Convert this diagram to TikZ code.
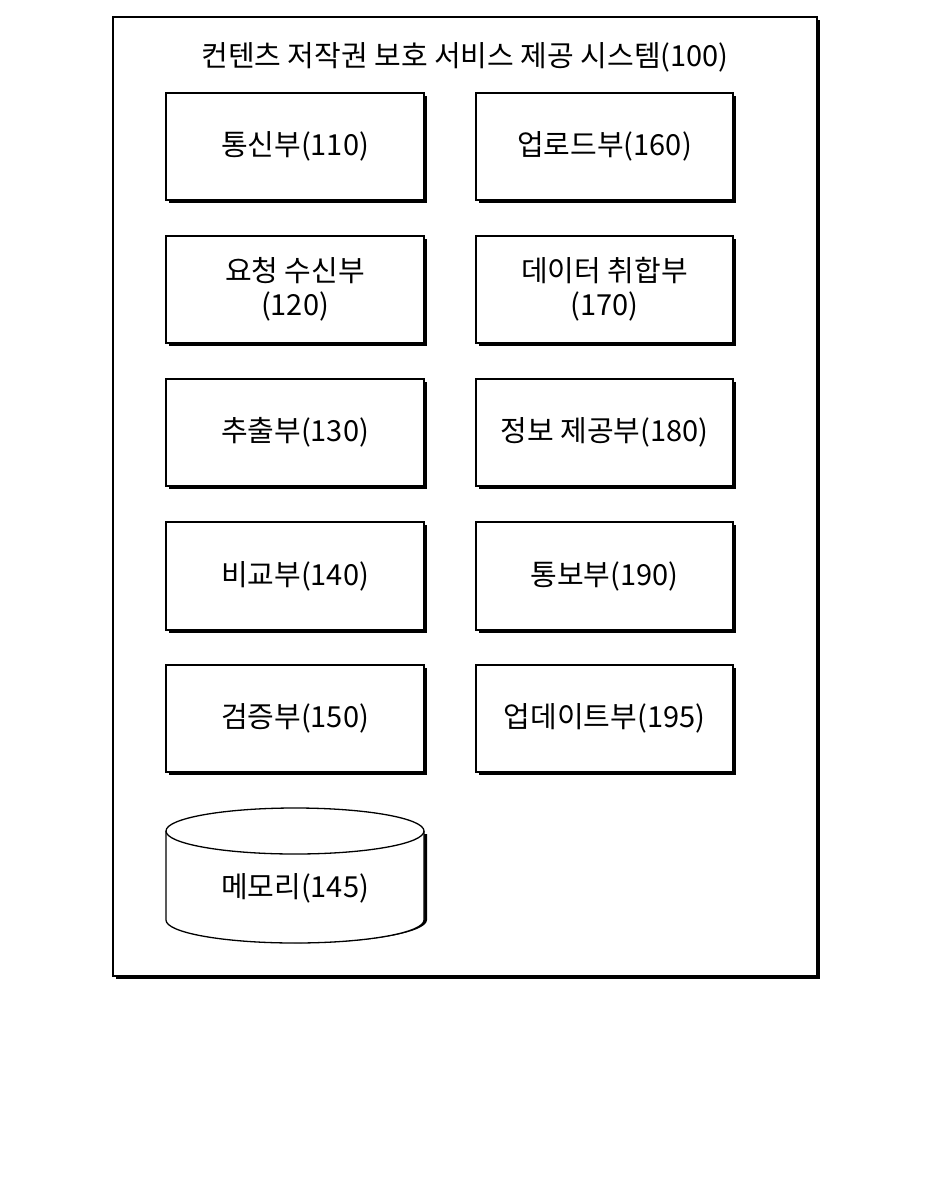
\documentclass[tikz,border=0pt]{standalone}
\usepackage{fontspec}
\setmainfont{Noto Sans CJK KR}
\begin{document}
\begin{tikzpicture}[x=1pt,y=-1pt,
  lbl/.style={font=\fontsize{29}{34}\selectfont,align=center}]
\useasboundingbox (0,0) rectangle (944,1192);
\newcommand\shbox[5]{% x1 y1 x2 y2 name
  \fill (#1+3,#2+3) rectangle (#3+3,#4+3);
  \draw[fill=white,line width=1.3pt] (#1,#2) rectangle (#3,#4);
  \node[lbl] (#5) at ({(#1+#3)/2},{(#2+#4)/2}) {\boxtext};}
\fill (116,20) rectangle (820,979);
\draw[fill=white,line width=1.3pt] (113,17) rectangle (817,976);
\node[lbl] (title) at (465,57) {컨텐츠 저작권 보호 서비스 제공 시스템(100)};
\def\boxtext{통신부(110)}\shbox{166}{93}{424}{200}{a}
\def\boxtext{업로드부(160)}\shbox{476}{93}{733}{200}{b}
\def\boxtext{요청 수신부\\(120)}\shbox{166}{236}{424}{343}{c}
\def\boxtext{데이터 취합부\\(170)}\shbox{476}{236}{733}{343}{d}
\def\boxtext{추출부(130)}\shbox{166}{379}{424}{486}{e}
\def\boxtext{정보 제공부(180)}\shbox{476}{379}{733}{486}{f}
\def\boxtext{비교부(140)}\shbox{166}{522}{424}{630}{g}
\def\boxtext{통보부(190)}\shbox{476}{522}{733}{630}{h}
\def\boxtext{검증부(150)}\shbox{166}{665}{424}{772}{i}
\def\boxtext{업데이트부(195)}\shbox{476}{665}{733}{772}{j}
% cylinder
\fill (169,834) -- (169,920) arc[start angle=180,end angle=0,x radius=129,y radius=23] -- (427,834) -- cycle;
\draw[fill=white,line width=1.3pt] (166,831) -- (166,920) arc[start angle=180,end angle=0,x radius=129,y radius=23] -- (424,831) arc[start angle=0,end angle=-180,x radius=129,y radius=23] -- cycle;
\draw[line width=1.3pt] (166,831) arc[start angle=180,end angle=0,x radius=129,y radius=23];
\node[lbl] (mem) at (295,888) {메모리(145)};
\end{tikzpicture}
\end{document}
